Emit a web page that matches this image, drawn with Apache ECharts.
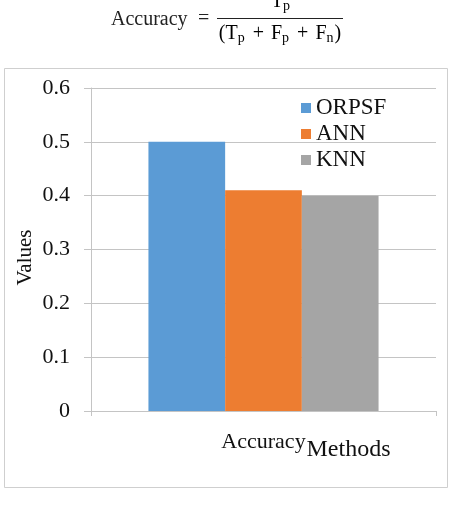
<!DOCTYPE html>
<html><head><meta charset="utf-8">
<script src="https://cdn.jsdelivr.net/npm/echarts@6/dist/echarts.min.js"></script>
<style>html,body{margin:0;padding:0;background:#fff}#c{width:457px;height:519px}</style>
</head><body><div id="c"></div>
<script>
// ---- data ----
const categories = ['Accuracy'];
const seriesNames = ['ORPSF', 'ANN', 'KNN'];
const orpsfValues = [0.50];
const annValues = [0.41];
const knnValues = [0.40];
const seriesValues = [orpsfValues, annValues, knnValues];
const xAxisTitle = 'Methods';
const yAxisTitle = 'Values';
const yMin = 0, yMax = 0.6, yStep = 0.1;

// ---- styles ----
const colors = ['#5b9bd5', '#ed7d31', '#a5a5a5'];
const serif = '"Liberation Serif", "Times New Roman", serif';
const gridColor = '#c4c4c4';

const chart = echarts.init(document.getElementById('c'), null, { renderer: 'canvas' });

const fracRich = {
  n: { fontFamily: serif, fontSize: 20, color: '#222', lineHeight: 21, verticalAlign: 'top' },
  s: { fontFamily: serif, fontSize: 14, color: '#222', lineHeight: 15, verticalAlign: 'bottom', padding: [0, 1, 0, 0] },
  o: { fontFamily: serif, fontSize: 20, color: '#222', lineHeight: 21, verticalAlign: 'top', padding: [0, 7, 0, 7] }
};

chart.setOption({
  animation: false,
  backgroundColor: '#fff',
  color: colors,
  graphic: [
    { type: 'rect', shape: { x: 4.5, y: 68.5, width: 443, height: 419 }, style: { fill: 'none', stroke: '#cfcfcf', lineWidth: 1 }, silent: true },
    { type: 'text', x: 111, y: 10, style: { text: 'Accuracy', fontFamily: serif, fontSize: 20, fill: '#222' } },
    { type: 'text', x: 198, y: 9, style: { text: '=', fontFamily: serif, fontSize: 20, fill: '#222' } },
    { type: 'line', shape: { x1: 217, y1: 18.5, x2: 343, y2: 18.5 }, style: { stroke: '#222', lineWidth: 1 } },
    { type: 'text', x: 281, y: -8, style: { text: '{n|T}{s|p}', rich: fracRich, align: 'center' } },
    { type: 'text', x: 280, y: 24, style: { text: '{n|(T}{s|p}{o|+}{n|F}{s|p}{o|+}{n|F}{s|n}{n|)}', rich: fracRich, align: 'center' } }
  ],
  legend: {
    orient: 'vertical',
    left: 296,
    top: 91,
    itemWidth: 10,
    itemHeight: 10,
    itemGap: 2,
    icon: 'rect',
    data: seriesNames,
    textStyle: { fontFamily: serif, fontSize: 23, color: '#111', lineHeight: 24, padding: [0, 0, 0, 0] }
  },
  grid: { left: 91, right: 21, top: 88, bottom: 108, containLabel: false },
  xAxis: {
    type: 'category',
    data: categories,
    name: xAxisTitle,
    nameLocation: 'middle',
    nameGap: 27,
    nameMoveOverlap: false,
    nameTextStyle: { fontFamily: serif, fontSize: 24, color: '#111', align: 'left', verticalAlign: 'top', padding: [0, 0, 0, 43] },
    axisLine: { show: true, lineStyle: { color: gridColor, width: 1 } },
    axisTick: { show: true, length: 5, lineStyle: { color: gridColor } },
    axisLabel: { fontFamily: serif, fontSize: 22, color: '#111', margin: 20 },
    splitLine: { show: false }
  },
  yAxis: {
    type: 'value',
    min: yMin,
    max: yMax,
    interval: yStep,
    name: yAxisTitle,
    nameLocation: 'middle',
    nameGap: 55,
    nameMoveOverlap: false,
    nameRotate: 90,
    nameTextStyle: { fontFamily: serif, fontSize: 21, color: '#111', padding: [0, 16, 0, 0] },
    axisLine: { show: true, lineStyle: { color: gridColor, width: 1 } },
    axisTick: { show: true, length: 7, lineStyle: { color: gridColor } },
    axisLabel: { fontFamily: serif, fontSize: 22, color: '#111', margin: 21 },
    splitLine: { show: true, lineStyle: { color: gridColor, width: 1 } }
  },
  series: seriesNames.map((n, i) => ({
    name: n,
    type: 'bar',
    data: seriesValues[i],
    barGap: '0%',
    barCategoryGap: '33.3%',
    itemStyle: { color: colors[i] }
  }))
});
</script>
</body></html>
